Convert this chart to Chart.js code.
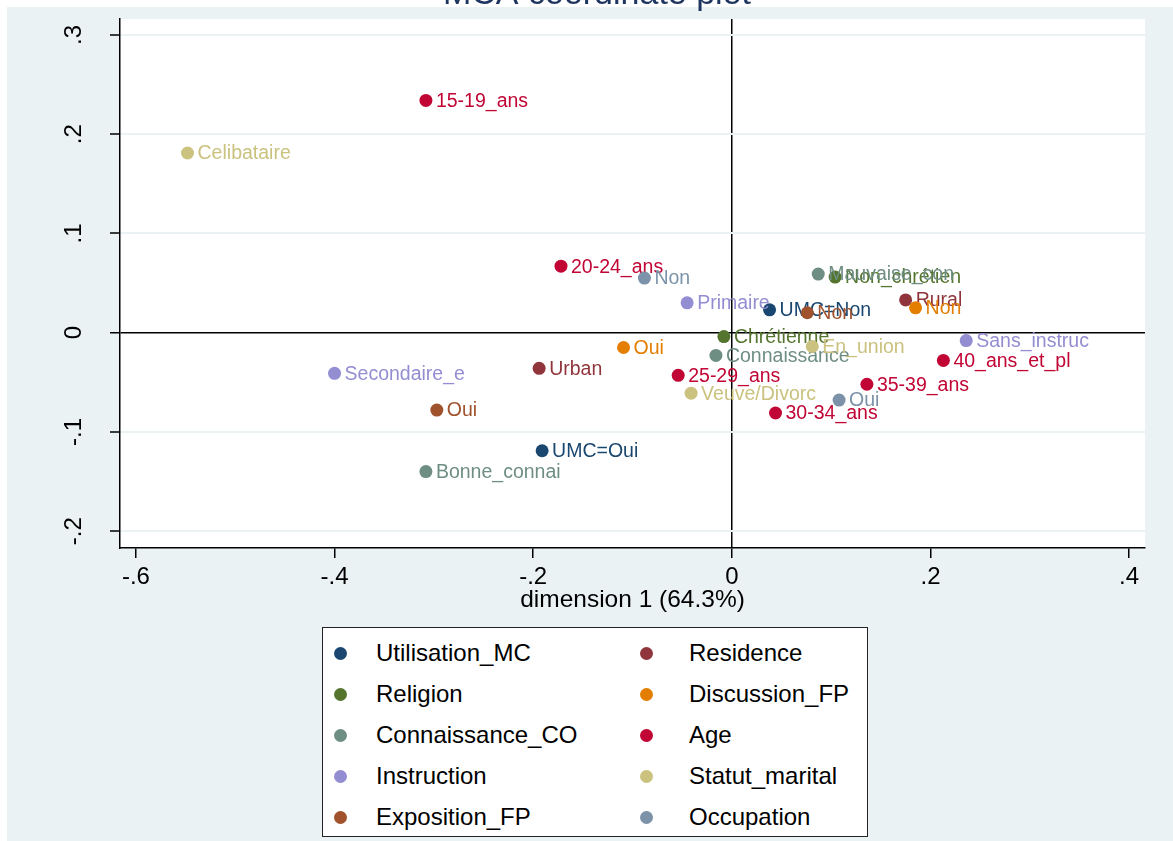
<!DOCTYPE html>
<html>
<head>
<meta charset="utf-8">
<title>MCA coordinate plot</title>
<script src="https://cdn.jsdelivr.net/npm/chart.js@4.4.1/dist/chart.umd.min.js"></script>
<style>
  html, body { margin: 0; padding: 0; background: #fff; }
  #wrap { position: relative; width: 1173px; height: 841px; }
  #legend {
    position: absolute; left: 322px; top: 627px; width: 546px; height: 210px;
    box-sizing: border-box; border: 1px solid #222; background: #fff;
    font-family: "Liberation Sans", Arial, sans-serif; font-size: 24px; color: #000;
  }
  .item { position: absolute; height: 30px; line-height: 30px; white-space: nowrap; }
  .dot { position: absolute; left: 0; top: 8.5px; width: 13px; height: 13px; border-radius: 50%; }
  .txt { position: absolute; top: 0; }
</style>
</head>
<body>
<div id="wrap">
  <canvas id="mca" width="1173" height="841"></canvas>
  <div id="legend"></div>
</div>
<script>
// variables (legend order) and Stata s2color colours
const groups = ['Utilisation_MC', 'Residence', 'Religion', 'Discussion_FP', 'Connaissance_CO',
                'Age', 'Instruction', 'Statut_marital', 'Exposition_FP', 'Occupation'];
const groupColors = ['#1A476F', '#90353B', '#55752F', '#E37E00', '#6E8E84',
                     '#C10534', '#938DD2', '#CAC27E', '#A0522D', '#7B92A8'];

// category coordinates: dimension 1 (x), dimension 2 (y)
const umcNames = ['UMC=Non', 'UMC=Oui'];
const umcX = [0.038, -0.191];
const umcY = [0.023, -0.119];

const residenceNames = ['Rural', 'Urban'];
const residenceX = [0.175, -0.194];
const residenceY = [0.033, -0.036];

const religionNames = ['Chrétienne', 'Non_chrétien'];
const religionX = [-0.008, 0.104];
const religionY = [-0.004, 0.056];

const discussionNames = ['Non', 'Oui'];
const discussionX = [0.185, -0.109];
const discussionY = [0.025, -0.015];

const connaissanceNames = ['Bonne_connai', 'Connaissance', 'Mauvaise_con'];
const connaissanceX = [-0.308, -0.016, 0.087];
const connaissanceY = [-0.140, -0.023, 0.059];

const ageNames = ['15-19_ans', '20-24_ans', '25-29_ans', '30-34_ans', '35-39_ans', '40_ans_et_pl'];
const ageX = [-0.308, -0.172, -0.054, 0.044, 0.136, 0.213];
const ageY = [0.234, 0.067, -0.043, -0.081, -0.052, -0.028];

const instructionNames = ['Primaire', 'Sans_instruc', 'Secondaire_e'];
const instructionX = [-0.045, 0.236, -0.400];
const instructionY = [0.030, -0.008, -0.041];

const maritalNames = ['Celibataire', 'En_union', 'Veuve/Divorc'];
const maritalX = [-0.548, 0.081, -0.041];
const maritalY = [0.181, -0.014, -0.061];

const expositionNames = ['Non', 'Oui'];
const expositionX = [0.076, -0.297];
const expositionY = [0.020, -0.078];

const occupationNames = ['Non', 'Oui'];
const occupationX = [-0.088, 0.108];
const occupationY = [0.055, -0.068];

// axis ticks
const xTicks = [-0.6, -0.4, -0.2, 0, 0.2, 0.4];
const xTickLabels = ['-.6', '-.4', '-.2', '0', '.2', '.4'];
const yTicks = [-0.2, -0.1, 0, 0.1, 0.2, 0.3];
const yTickLabels = ['-.2', '-.1', '0', '.1', '.2', '.3'];

const chartTitle = 'MCA coordinate plot';
const xTitle = 'dimension 1 (64.3%)';

const series = [
  [umcNames, umcX, umcY],
  [residenceNames, residenceX, residenceY],
  [religionNames, religionX, religionY],
  [discussionNames, discussionX, discussionY],
  [connaissanceNames, connaissanceX, connaissanceY],
  [ageNames, ageX, ageY],
  [instructionNames, instructionX, instructionY],
  [maritalNames, maritalX, maritalY],
  [expositionNames, expositionX, expositionY],
  [occupationNames, occupationX, occupationY]
];

const FONT = '"Liberation Sans", Arial, sans-serif';
const BG = '#EAF2F3';

const datasets = series.map(([names, xs, ys], i) => ({
  label: groups[i],
  data: xs.map((x, j) => ({ x: x, y: ys[j] })),
  pointNames: names,
  backgroundColor: groupColors[i],
  borderWidth: 0,
  pointRadius: 6.5,
  pointHoverRadius: 6.5,
  order: series.length - i   // later variables drawn on top, like Stata
}));

// graph region + plot region backgrounds
const backdrop = {
  id: 'backdrop',
  beforeDraw(chart) {
    const { ctx, chartArea: a } = chart;
    ctx.save();
    ctx.fillStyle = '#fff';
    ctx.fillRect(0, 0, chart.width, chart.height);
    ctx.fillStyle = BG;
    ctx.fillRect(7, 7, chart.width - 7, chart.height - 7);
    ctx.fillStyle = '#fff';
    ctx.fillRect(a.left, a.top, a.right - a.left, a.bottom - a.top);
    ctx.restore();
  },
  afterDraw(chart) {
    const ctx = chart.ctx;
    ctx.save();
    ctx.font = '34px ' + FONT;
    ctx.fillStyle = '#1E3560';
    ctx.textAlign = 'center';
    ctx.textBaseline = 'alphabetic';
    ctx.fillText(chartTitle, 597, 4);
    ctx.restore();
  }
};

// marker labels, drawn right after each variable's markers
const pointLabels = {
  id: 'pointLabels',
  afterDatasetDraw(chart, args) {
    const ds = chart.data.datasets[args.index];
    const ctx = chart.ctx;
    ctx.save();
    ctx.font = '19.5px ' + FONT;
    ctx.fillStyle = ds.backgroundColor;
    ctx.textAlign = 'left';
    ctx.textBaseline = 'middle';
    args.meta.data.forEach((pt, j) => {
      ctx.fillText(ds.pointNames[j], pt.x + 10, pt.y + 1);
    });
    ctx.restore();
  }
};

new Chart(document.getElementById('mca'), {
  type: 'scatter',
  data: { datasets: datasets },
  options: {
    responsive: false,
    animation: false,
    events: [],
    layout: { padding: { left: 7, top: 19, right: 28, bottom: 841 - 548 - 67 } },
    plugins: {
      legend: { display: false },
      tooltip: { enabled: false },
      title: { display: false }
    },
    scales: {
      x: {
        type: 'linear',
        min: -0.616,
        max: 0.416,
        afterBuildTicks: s => { s.ticks = xTicks.map(v => ({ value: v })); },
        afterFit: s => { s.height = 67; s.paddingLeft = 0; s.paddingRight = 0; },
        border: { display: true, color: '#000', width: 1.5 },
        grid: {
          color: c => (c.tick && c.tick.value === 0 ? '#000' : 'rgba(0,0,0,0)'),
          lineWidth: 1.5,
          tickColor: '#000',
          tickWidth: 1.5,
          tickLength: 10
        },
        ticks: {
          color: '#000',
          font: { family: FONT, size: 24 },
          padding: 5,
          maxRotation: 0,
          autoSkip: false,
          callback: (v, i) => xTickLabels[i]
        },
        title: {
          display: true,
          text: xTitle,
          color: '#000',
          font: { family: FONT, size: 24.5 },
          padding: { top: 0, bottom: 0 }
        }
      },
      y: {
        type: 'linear',
        min: -0.217,
        max: 0.316,
        afterBuildTicks: s => { s.ticks = yTicks.map(v => ({ value: v })); },
        afterFit: s => { s.width = 113; s.paddingTop = 0; s.paddingBottom = 0; },
        border: { display: true, color: '#000', width: 1.5 },
        grid: {
          color: c => (c.tick && c.tick.value === 0 ? '#000' : BG),
          lineWidth: c => (c.tick && c.tick.value === 0 ? 1.5 : 2),
          tickColor: '#000',
          tickWidth: 1.5,
          tickLength: 10
        },
        ticks: {
          color: '#000',
          font: { family: FONT, size: 24 },
          minRotation: 90,
          maxRotation: 90,
          crossAlign: 'center',
          padding: 22,
          autoSkip: false,
          callback: (v, i) => yTickLabels[i]
        }
      }
    }
  },
  plugins: [backdrop, pointLabels]
});

// legend: two columns, filled row by row
const legendBox = document.getElementById('legend');
const rowCenters = [25, 66, 107, 148, 189];
const colDotX = [17, 323];
const textGap = 36;
groups.forEach((name, i) => {
  const row = Math.floor(i / 2), col = i % 2;
  const item = document.createElement('div');
  item.className = 'item';
  item.style.left = (colDotX[col] - 6.5) + 'px';
  item.style.top = (rowCenters[row] - 15) + 'px';
  const dot = document.createElement('span');
  dot.className = 'dot';
  dot.style.background = groupColors[i];
  const txt = document.createElement('span');
  txt.className = 'txt';
  txt.style.left = (textGap + 6.5 + (col ? 7 : 0)) + 'px';
  txt.textContent = name;
  item.appendChild(dot);
  item.appendChild(txt);
  legendBox.appendChild(item);
});
</script>
</body>
</html>
